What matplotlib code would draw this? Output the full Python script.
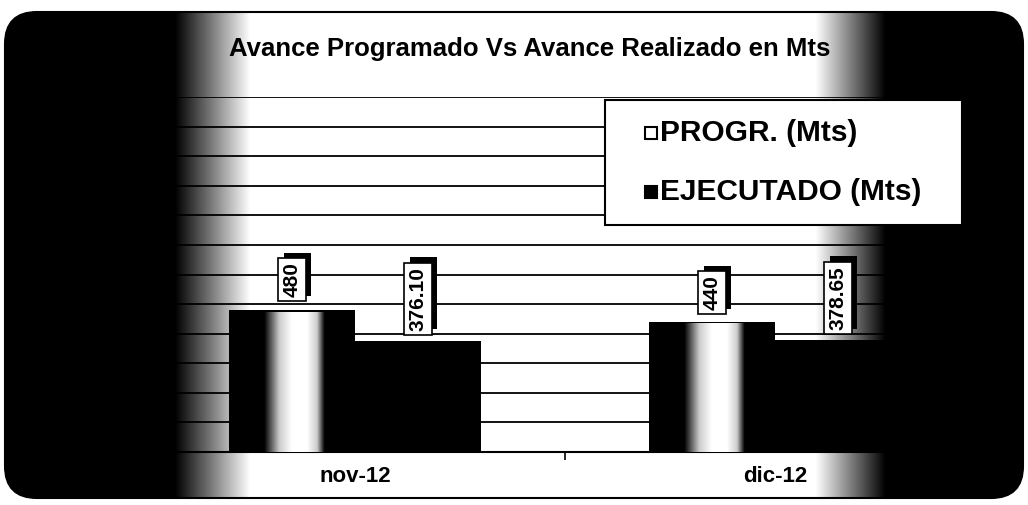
import numpy as np
import matplotlib
matplotlib.use("Agg")
import matplotlib.pyplot as plt
import matplotlib.patheffects as pe
from matplotlib.patches import FancyBboxPatch, Rectangle

# datos del gráfico
meses = ["nov-12", "dic-12"]
programado = [480, 440]
ejecutado = [376.10, 378.65]
etiquetas_prog = ["480", "440"]
etiquetas_ejec = ["376.10", "378.65"]
series = ["PROGR. (Mts)", "EJECUTADO (Mts)"]
titulo = "Avance Programado Vs Avance Realizado en Mts"

plt.rcParams["font.family"] = ["Liberation Sans", "DejaVu Sans"]

W, H = 1028, 505
fig = plt.figure(figsize=(W / 100, H / 100), dpi=100)
fig.patch.set_facecolor("white")

# fondo: marco redondeado con degradado negro a los lados
bg = fig.add_axes([0, 0, 1, 1], zorder=0)
bg.set_xlim(0, W)
bg.set_ylim(H, 0)
bg.axis("off")
perfil = np.interp(np.arange(W), [0, 175, 250, 815, 885, W], [0, 0, 1, 1, 0, 0])
marco = FancyBboxPatch((5, 12), W - 10, 486, boxstyle="round,pad=0,rounding_size=32",
                       facecolor="none", edgecolor="black", lw=1.5)
bg.add_patch(marco)
img = bg.imshow(perfil[None, :], extent=[0, W, H, 0], aspect="auto", cmap="gray",
                vmin=0, vmax=1)
img.set_clip_path(marco)
bg.set_xlim(0, W)
bg.set_ylim(H, 0)

# gráfico principal
ax = fig.add_axes([145 / W, 53 / H, 840 / W, 355 / H], zorder=1)
ax.set_facecolor("none")
x = np.arange(len(meses))
ancho = 0.3

ax.bar(x + ancho / 2, ejecutado, ancho, color="black", zorder=3)
ax.bar(x - ancho / 2, programado, ancho, color="black", zorder=3)

# sombreado cilíndrico de las barras programadas
t = np.linspace(0, 1, 200)
brillo = np.interp(t, [0, 0.28, 0.4, 0.5, 0.62, 0.7, 0.76, 1], [0, 0, 0.8, 1, 1, 0.8, 0, 0])
for xi, val in zip(x, programado):
    ax.imshow(brillo[None, :], extent=[xi - ancho, xi, 0, val * 0.985], aspect="auto",
              cmap="gray", vmin=0, vmax=1, zorder=4)

# etiquetas de datos con sombra
def etiqueta(xp, val, texto):
    tx = ax.annotate(texto, (xp, val * 1.09), rotation=90, ha="center", va="bottom",
                     fontsize=15, fontweight="bold", color="black", zorder=6,
                     bbox=dict(boxstyle="square,pad=0.2", fc="white", ec="black", lw=1.2))
    tx.get_bbox_patch().set_path_effects([
        pe.SimplePatchShadow(offset=(4, 4), shadow_rgbFace="black", alpha=1),
        pe.Normal()])

for xi, val, tx in zip(x, programado, etiquetas_prog):
    etiqueta(xi - ancho / 2, val, tx)
for xi, val, tx in zip(x, ejecutado, etiquetas_ejec):
    etiqueta(xi + ancho / 2, val, tx)

ax.set_xlim(-0.5, 1.5)
ax.set_ylim(0, 1200)
ax.set_yticks(np.arange(0, 1201, 100))
ax.yaxis.grid(True, color="black", lw=1.3)
ax.set_axisbelow(True)
ax.tick_params(axis="y", left=False, labelleft=False)
ax.set_xticks(x)
ax.set_xticklabels(meses, fontsize=16, fontweight="bold")
ax.tick_params(axis="x", which="major", length=0, pad=10)
ax.set_xticks([0.5], minor=True)
ax.tick_params(axis="x", which="minor", length=6, width=1.2, direction="out")
for s in ["left", "right", "top"]:
    ax.spines[s].set_visible(False)
ax.spines["bottom"].set_linewidth(1.5)

# título
fig.text(530 / W, 1 - 49 / H, titulo, ha="center", va="center", fontsize=18.5,
         fontweight="bold", zorder=3)

# leyenda
leg = fig.add_axes([0, 0, 1, 1], zorder=2)
leg.set_xlim(0, W)
leg.set_ylim(H, 0)
leg.axis("off")
leg.add_patch(Rectangle((605, 100), 357, 125, facecolor="white", edgecolor="black", lw=1.5))
colores = ["white", "black"]
for i, (nombre, c) in enumerate(zip(series, colores)):
    yc = 133 + i * 59
    leg.add_patch(Rectangle((645, yc - 6), 12, 12, facecolor=c, edgecolor="black", lw=1.5))
    leg.text(660, yc, nombre, ha="left", va="center", fontsize=21.5, fontweight="bold")

fig.savefig("out.png", dpi=100, facecolor="white")
